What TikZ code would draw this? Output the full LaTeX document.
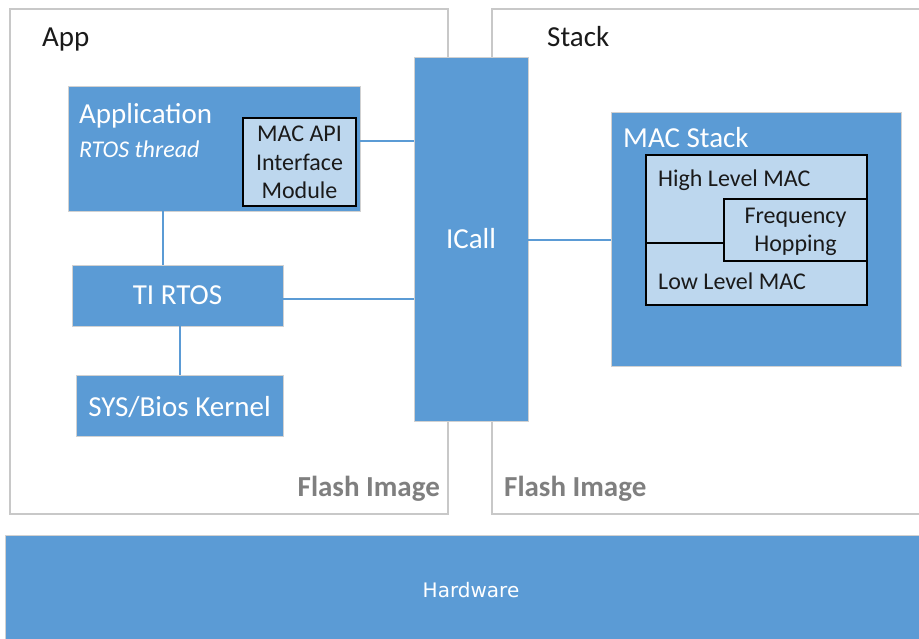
\documentclass[tikz,border=0pt]{standalone}
\usepackage{fontspec}
\setmainfont{Carlito}
\newfontfamily\hwfont{DejaVu Sans}
\definecolor{blu}{HTML}{5B9BD5}
\definecolor{lblu}{HTML}{BDD7EE}
\definecolor{framegray}{HTML}{C8C8C8}
\definecolor{flashgray}{HTML}{7F7F7F}
\definecolor{ink}{HTML}{1A1A1A}
\begin{document}
\begin{tikzpicture}[x=1pt,y=-1pt,
 panel/.style={draw=framegray, line width=1.5pt, fill=white, inner sep=0pt},
 bluebox/.style={draw=black!18, line width=0.8pt, fill=blu, inner sep=0pt},
 lightbox/.style={draw=black, line width=1.6pt, fill=lblu, inner sep=0pt},
 link/.style={draw=blu, line width=2pt},
 big/.style={font=\fontsize{29}{34}\selectfont},
 small/.style={font=\fontsize{24}{29}\selectfont},
 txtw/.style={inner sep=0pt, anchor=base west},
 txtc/.style={inner sep=0pt, anchor=base},
]
\useasboundingbox (0,0) rectangle (919,639);
\fill[white] (0,0) rectangle (919,639);

% panels
\node[panel, minimum width=438pt, minimum height=505pt] (app) at (229,261.5) {};
\node[panel, minimum width=443pt, minimum height=505pt] (stack) at (713.5,261.5) {};
\node[bluebox, minimum width=925pt, minimum height=115pt] (hw) at (467.5,592.5) {};

% App side boxes
\node[bluebox, minimum width=292pt, minimum height=125pt] (appl) at (214,148.5) {};
\node[lightbox, minimum width=113pt, minimum height=88pt] (macapi) at (299.5,162) {};
\node[bluebox, minimum width=211pt, minimum height=61pt] (tirtos) at (177.5,295.5) {};
\node[bluebox, minimum width=207pt, minimum height=61pt] (sysbios) at (179.5,405.5) {};

% ICall
\node[bluebox, minimum width=114pt, minimum height=364pt] (icall) at (471,239) {};

% MAC stack
\node[bluebox, minimum width=290pt, minimum height=254pt] (macstack) at (756,239) {};
\node[lightbox, minimum width=221pt, minimum height=150pt] (hlmac) at (756.5,230) {};
\node[lightbox, minimum width=143pt, minimum height=62pt] (freq) at (795.5,230) {};
\coordinate (divL) at (646,243);
\draw[black, line width=1.6pt] (divL) -- (freq.west |- divL);

% connectors
\draw[link] (macapi.east |- 0,141) -- (icall.west |- 0,141);
\draw[link] (appl.south -| 163,0) -- (tirtos.north -| 163,0);
\draw[link] (tirtos.east |- 0,299) -- (icall.west |- 0,299);
\draw[link] (tirtos.south -| 180,0) -- (sysbios.north -| 180,0);
\draw[link] (icall.east |- 0,240) -- (macstack.west |- 0,240);

% texts
\node[txtw, big, text=ink] (tapp) at (42,47) {App};
\node[txtw, big, text=ink] (tstack) at (547,47) {Stack};
\node[txtw, big, text=white] (tappl) at (79,124) {Application};
\node[txtw, small, text=white, font=\fontsize{24}{29}\selectfont\itshape] (trtos) at (79,158) {RTOS thread};
\node[txtc, small, text=ink] (tm1) at (299.5,141.7) {MAC API};
\node[txtc, small, text=ink] (tm2) at (299.5,170.3) {Interface};
\node[txtc, small, text=ink] (tm3) at (299.5,199) {Module};
\node[txtc, big, text=white] (ttirtos) at (177.5,305) {TI RTOS};
\node[txtc, big, text=white] (tsys) at (179.5,416) {SYS/Bios Kernel};
\node[txtc, big, text=white] (ticall) at (471,249) {ICall};
\node[txtw, big, text=white] (tmacstack) at (623,148) {MAC Stack};
\node[txtw, small, text=ink] (thl) at (658,187) {High Level MAC};
\node[txtc, small, text=ink] (tf1) at (795.5,224) {Frequency};
\node[txtc, small, text=ink] (tf2) at (795.5,252) {Hopping};
\node[txtw, small, text=ink] (tll) at (658,290) {Low Level MAC};
\node[inner sep=0pt, anchor=base east, text=flashgray, font=\fontsize{29}{34}\selectfont\bfseries] (tfl1) at (440,496) {Flash Image};
\node[txtw, text=flashgray, font=\fontsize{29}{34}\selectfont\bfseries] (tfl2) at (504,496) {Flash Image};
\node[txtc, text=white, font=\hwfont\fontsize{20}{24}\selectfont] (thw) at (471,597) {Hardware};
\end{tikzpicture}
\end{document}
